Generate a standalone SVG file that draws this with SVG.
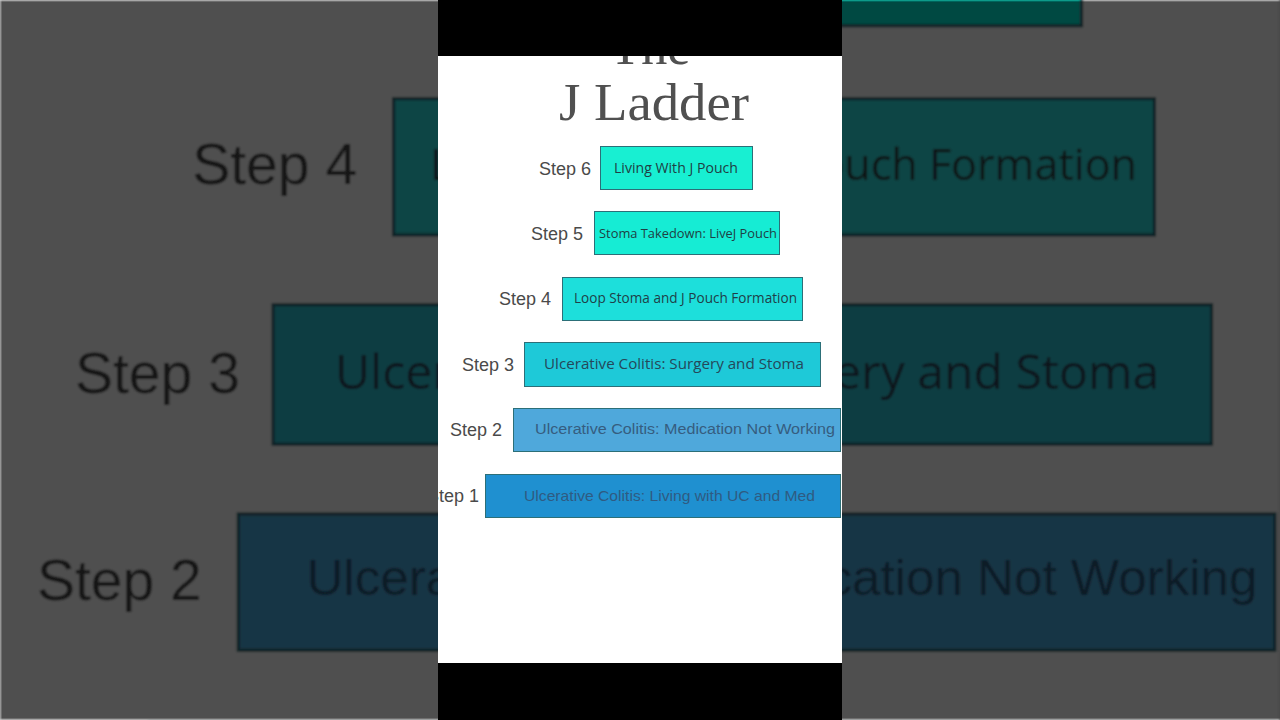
<svg xmlns="http://www.w3.org/2000/svg" xmlns:xlink="http://www.w3.org/1999/xlink" width="1280" height="720" viewBox="0 0 1280 720">
<style>
.lbl{font-family:"Liberation Sans",Arial,sans-serif;font-size:18px;fill:#4a4a4a;text-anchor:end}
.bt{font-family:"Open Sans","Liberation Sans",sans-serif;text-anchor:start}
.bh{font-family:"Liberation Sans",Arial,sans-serif;text-anchor:start}
.box{stroke:#2c6f78;stroke-width:1}
.title{font-family:"Liberation Serif","DejaVu Serif",serif;fill:#505050;text-anchor:middle}
</style>
<defs>
<clipPath id="panelClip"><rect x="438" y="56" width="404" height="607"/></clipPath>
<filter id="soft" x="-5%" y="-5%" width="110%" height="110%"><feGaussianBlur stdDeviation="1.1"/></filter>
</defs>
<rect width="1280" height="720" fill="#4f4f4f"/>
<g id="background" filter="url(#soft)">
<use xlink:href="#ladder" href="#ladder" transform="matrix(3.17,0,0,3.17,-1389.5,-781)"/>
<rect width="1280" height="720" fill="#000" opacity="0.69"/>
</g>
<rect id="barTop" x="438" y="0" width="404" height="56" fill="#000"/>
<rect id="barBottom" x="438" y="663" width="404" height="57" fill="#000"/>
<g clip-path="url(#panelClip)">
<g id="ladder">
<rect x="438" y="56" width="404" height="607" fill="#fff"/>
<g id="title">
<text class="title" x="650" y="64" font-size="52">The</text>
<text class="title" x="654" y="120" font-size="52" textLength="190" lengthAdjust="spacingAndGlyphs">J Ladder</text>
</g>
<g id="step6">
<text class="lbl" x="591" y="174.5">Step 6</text>
<rect class="box" x="600.5" y="146.5" width="152" height="43" fill="#18efd2"/>
<text class="bt" x="614" y="173" font-size="14" fill="#1f3f44" textLength="124" lengthAdjust="spacingAndGlyphs">Living With J Pouch</text>
</g>
<g id="step5">
<text class="lbl" x="583" y="239.5">Step 5</text>
<rect class="box" x="594.5" y="211.5" width="185" height="43" fill="#16ecd4"/>
<text class="bt" x="599" y="238" font-size="13.5" fill="#1f3f44" textLength="178" lengthAdjust="spacingAndGlyphs">Stoma Takedown: LiveJ Pouch</text>
</g>
<g id="step4">
<text class="lbl" x="551" y="304.5">Step 4</text>
<rect class="box" x="562.5" y="277.5" width="240" height="43" fill="#1ddfdb"/>
<text class="bt" x="574" y="303" font-size="14" fill="#1f3f48" textLength="223" lengthAdjust="spacingAndGlyphs">Loop Stoma and J Pouch Formation</text>
</g>
<g id="step3">
<text class="lbl" x="514" y="370.5">Step 3</text>
<rect class="box" x="524.5" y="342.5" width="296" height="44" fill="#1ec9d8"/>
<text class="bt" x="544" y="369" font-size="15" fill="#25485a" textLength="260" lengthAdjust="spacingAndGlyphs">Ulcerative Colitis: Surgery and Stoma</text>
</g>
<g id="step2">
<text class="lbl" x="502" y="435.5">Step 2</text>
<rect class="box" x="513.5" y="408.5" width="327" height="43" fill="#4fa8db" stroke="#3a6f90"/>
<text class="bh" x="535" y="434" font-size="15.5" fill="#365d80" textLength="300" lengthAdjust="spacingAndGlyphs">Ulcerative Colitis: Medication Not Working</text>
</g>
<g id="step1">
<text class="lbl" x="479" y="501.5">Step 1</text>
<rect class="box" x="485.5" y="474.5" width="355" height="43" fill="#1f90d0" stroke="#2d6690"/>
<text class="bh" x="524" y="501" font-size="15" fill="#2f5b82" textLength="291" lengthAdjust="spacingAndGlyphs">Ulcerative Colitis: Living with UC and Med</text>
</g>
</g>
</g>
<g id="connectors"/>
</svg>
